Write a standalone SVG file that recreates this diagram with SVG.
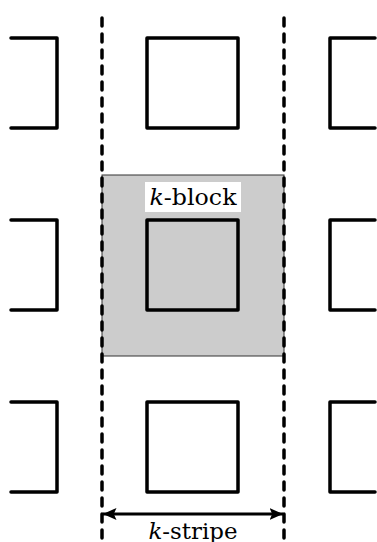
<svg xmlns="http://www.w3.org/2000/svg" width="377" height="542" viewBox="0 0 377 542">
<style>
.sq{fill:none;stroke:#000;stroke-width:3.5;stroke-linejoin:round;stroke-linecap:round}
.dash{stroke:#000;stroke-width:3.5;stroke-dasharray:8 8;stroke-linecap:round;fill:none}
.lbl{font-family:"DejaVu Serif","Liberation Serif",serif;font-size:22px;fill:#000}
</style>
<defs>
<marker id="ah" viewBox="0 0 10 10" refX="10" refY="5" markerWidth="4.5" markerHeight="4.5" orient="auto-start-reverse" markerUnits="strokeWidth">
<path d="M0,0.5 L10,5 L0,9.5 L2,5 Z" fill="#000"/>
</marker>
</defs>
<g id="kblock">
<rect x="102" y="175" width="182" height="181" fill="#cccccc" stroke="#333" stroke-width="1"/>
<rect x="145" y="182" width="96" height="30" fill="#fff"/>
<text class="lbl" x="193" y="205" text-anchor="middle" textLength="87" lengthAdjust="spacingAndGlyphs"><tspan font-style="italic">k</tspan>-block</text>
</g>
<g id="row1">
<path class="sq" d="M11,38 H57 V128 H11"/>
<rect class="sq" x="147" y="38" width="91" height="90"/>
<path class="sq" d="M375,38 H330 V128 H375"/>
</g>
<g id="row2">
<path class="sq" d="M11,220 H57 V310 H11"/>
<rect class="sq" x="147" y="220" width="91" height="90"/>
<path class="sq" d="M375,220 H330 V310 H375"/>
</g>
<g id="row3">
<path class="sq" d="M11,402 H57 V492 H11"/>
<rect class="sq" x="147" y="402" width="91" height="90"/>
<path class="sq" d="M375,402 H330 V492 H375"/>
</g>
<g id="connectors">
<line class="dash" x1="102" y1="18" x2="102" y2="542"/>
<line class="dash" x1="284" y1="18" x2="284" y2="542"/>
<line x1="103" y1="514" x2="283" y2="514" stroke="#000" stroke-width="3" marker-start="url(#ah)" marker-end="url(#ah)"/>
</g>
<g id="stripe-label">
<text class="lbl" x="193" y="539" text-anchor="middle" textLength="89" lengthAdjust="spacingAndGlyphs"><tspan font-style="italic">k</tspan>-stripe</text>
</g>
</svg>
